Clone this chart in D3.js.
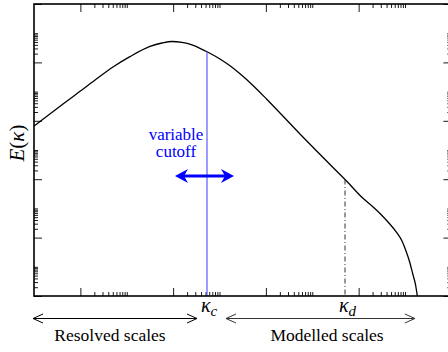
<!DOCTYPE html>
<html><head><meta charset="utf-8">
<script src="https://cdn.jsdelivr.net/npm/d3@7"></script>
</head><body style="margin:0">
<svg id="c" width="448" height="352" font-family="Liberation Serif"></svg>
<script>
// data (log-log energy spectrum)
const kappa = [0.1, 0.156, 0.422, 0.982, 2.28, 5.05, 11.7, 31.7, 57.5, 94.4, 155, 255, 379, 537, 1023, 1683, 2767, 5272, 10570, 54330, 2.80e5, 5.61e5, 1.24e6, 1.94e6, 2.89e6, 4.30e6, 6.71e6, 8.61e6, 1.05e7, 1.25e7, 1.48e7, 1.68e7, 1.84e7];
const energy = [6.64e5, 1.125e6, 3.76e6, 1.02e7, 2.79e7, 6.95e7, 1.57e8, 3.51e8, 4.62e8, 5.2e8, 4.81e8, 3.95e8, 3.04e8, 2.31e8, 1.31e8, 7.65e7, 4.07e7, 1.62e7, 5.36e6, 3.53e5, 2.52e4, 8.34e3, 2218, 1208, 669, 342, 144, 76.5, 34.8, 15.2, 5.45, 2.48, 1];
const kappaC = 537;     // variable cutoff
const kappaD = 5.08e5;  // dissipation wavenumber
const kappaEnd = 1.8e7; // end of modelled-scales arrow
const xDomain = [0.1, 1e8];
const yDomain = [1, 1e10];
const majorExp = [0, 2, 4, 6, 8, 10];
const minorMult = [2, 3, 4, 5, 6, 7, 8, 9, 10];
const labelsBottom = ["Resolved scales", "Modelled scales"];
const cutoffText = ["variable", "cutoff"];

const FONT = '"Liberation Serif"';
const svg = d3.select("#c");
const L = 34, T = 4, R = 451.4, B = 296;
const x = d3.scaleLog().domain(xDomain).range([L, R]);
const y = d3.scaleLog().domain(yDomain).range([B, T]);

const inDom = (d, dom) => d >= dom[0] * 0.999 && d <= dom[1] * 1.001;
const majors = dom => majorExp.map(e => Math.pow(10, e)).filter(v => inDom(v, dom));
const minors = dom => {
  const out = [];
  majorExp.forEach(e => minorMult.forEach(m => { const v = m * Math.pow(10, e); if (inDom(v, dom)) out.push(v); }));
  return out;
};

const defs = svg.append("defs");
defs.append("clipPath").attr("id", "clip").append("rect").attr("x", L).attr("y", T).attr("width", R - L).attr("height", B - T);

// axes (ticks inward, no labels)
function addAxis(gen, tx, ty, vals, size) {
  const g = svg.append("g").attr("transform", `translate(${tx},${ty})`)
    .call(gen.tickValues(vals).tickSize(-size).tickFormat(""));
  g.select(".domain").remove();
  g.selectAll("text").remove();
  g.selectAll("line").attr("stroke", "#000").attr("stroke-width", 0.9);
}
addAxis(d3.axisBottom(x), 0, B, majors(xDomain), 8);
addAxis(d3.axisBottom(x), 0, B, minors(xDomain), 4);
addAxis(d3.axisTop(x), 0, T, majors(xDomain), 8);
addAxis(d3.axisTop(x), 0, T, minors(xDomain), 4);
addAxis(d3.axisLeft(y), L, 0, majors(yDomain), 8);
addAxis(d3.axisLeft(y), L, 0, minors(yDomain), 4);
addAxis(d3.axisRight(y), R, 0, majors(yDomain), 8);
addAxis(d3.axisRight(y), R, 0, minors(yDomain), 4);

// curve
const pts = kappa.map((k, i) => [k, energy[i]]);
const line = d3.line().x(d => x(d[0])).y(d => y(d[1])).curve(d3.curveMonotoneX);
svg.append("path").attr("clip-path", "url(#clip)").datum(pts).attr("d", line)
  .attr("fill", "none").attr("stroke", "#000").attr("stroke-width", 1.3);

// energy at a wavenumber (log-log interpolation of the data)
function eAt(k) {
  const lk = kappa.map(Math.log10), le = energy.map(Math.log10);
  const i = Math.max(1, d3.bisectLeft(lk, Math.log10(k)));
  const t = (Math.log10(k) - lk[i - 1]) / (lk[i] - lk[i - 1]);
  return Math.pow(10, le[i - 1] + t * (le[i] - le[i - 1]));
}

// cutoff line
svg.append("line").attr("x1", x(kappaC)).attr("x2", x(kappaC)).attr("y1", y(eAt(kappaC))).attr("y2", B)
  .attr("stroke", "#4a4aff").attr("stroke-width", 1.1);
// dissipation dash-dot
svg.append("line").attr("x1", x(kappaD)).attr("x2", x(kappaD)).attr("y1", y(eAt(kappaD))).attr("y2", B)
  .attr("stroke", "#333").attr("stroke-width", 1).attr("stroke-dasharray", "5,2.5,1,2.5");

// frame
svg.append("rect").attr("x", L).attr("y", T).attr("width", R - L).attr("height", B - T)
  .attr("fill", "none").attr("stroke", "#000").attr("stroke-width", 1.6);

function txt(sel) {
  return sel.append("text").attr("font-family", "Liberation Serif").style("font-family", FONT);
}

// y label
const yl = txt(svg).attr("transform", "translate(24,143) rotate(-90)")
  .attr("text-anchor", "middle").style("font-size", "21px").attr("fill", "#000");
yl.append("tspan").style("font-style", "italic").text("E");
yl.append("tspan").text("(");
yl.append("tspan").style("font-style", "italic").text("κ");
yl.append("tspan").text(")");

// kappa labels
function kLabel(k, sub) {
  const t = txt(svg).attr("x", x(k) - 6).attr("y", 312)
    .style("font-size", "20px").style("font-style", "italic").attr("fill", "#000");
  t.append("tspan").text("κ");
  t.append("tspan").style("font-size", "15px").attr("dy", 4).text(sub);
}
kLabel(kappaC, "c");
kLabel(kappaD, "d");

// range arrows
function openArrow(x1, x2, yy, color) {
  svg.append("line").attr("x1", x1).attr("x2", x2).attr("y1", yy).attr("y2", yy).attr("stroke", color).attr("stroke-width", 1);
  [[x1, 1], [x2, -1]].forEach(([px, s]) => {
    svg.append("path").attr("d", `M${px + s * 10},${yy - 4.5}L${px},${yy}L${px + s * 10},${yy + 4.5}`)
      .attr("fill", "none").attr("stroke", color).attr("stroke-width", 1);
  });
}
openArrow(L - 1, x(kappaC) - 10, 318.5, "#000");
openArrow(x(kappaC) + 19, x(kappaEnd) - 2, 318.5, "#333");

txt(svg).attr("x", 110).attr("y", 341).attr("text-anchor", "middle")
  .style("font-size", "17.5px").attr("fill", "#000").text(labelsBottom[0]);
txt(svg).attr("x", 327).attr("y", 341).attr("text-anchor", "middle")
  .style("font-size", "17.5px").attr("fill", "#000").text(labelsBottom[1]);

// variable cutoff text + double arrow
const ct = txt(svg).attr("text-anchor", "middle").style("font-size", "17px").attr("fill", "#0000ff");
cutoffText.forEach((s, i) => {
  ct.append("tspan").attr("x", 176).attr("y", 139.5 + i * 17.4).text(s);
});
const ay = 176, ax1 = 175, ax2 = 234;
svg.append("line").attr("x1", ax1 + 8).attr("x2", ax2 - 8).attr("y1", ay).attr("y2", ay)
  .attr("stroke", "#0000ff").attr("stroke-width", 3.2);
svg.append("path").attr("d", `M${ax1},${ay}L${ax1 + 13},${ay - 7}L${ax1 + 9},${ay}L${ax1 + 13},${ay + 7}Z`).attr("fill", "#0000ff");
svg.append("path").attr("d", `M${ax2},${ay}L${ax2 - 13},${ay - 7}L${ax2 - 9},${ay}L${ax2 - 13},${ay + 7}Z`).attr("fill", "#0000ff");
</script>
</body></html>
